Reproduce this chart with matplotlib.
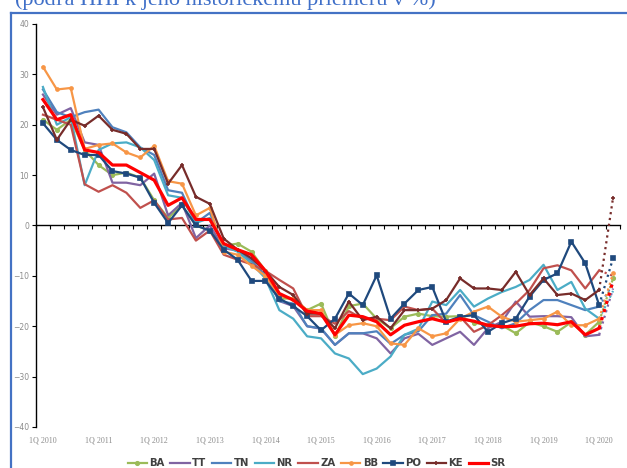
import matplotlib.pyplot as plt
import numpy as np
from matplotlib.lines import Line2D

# quarters 1Q 2010 .. 1Q 2020 (solid), plus 2Q 2020 (dotted end)
year_labels = ["1Q 2010", "1Q 2011", "1Q 2012", "1Q 2013", "1Q 2014", "1Q 2015",
               "1Q 2016", "1Q 2017", "1Q 2018", "1Q 2019", "1Q 2020"]

BA = [21, 19, 21, 15, 12, 10, 10.5, 9.5, 5, 1.5, 4, 0, -1, -4, -3.6, -5.2, -9, -14.5, -14.5, -16.8,
      -15.5, -22, -16, -15.5, -18.5, -20.4, -18.1, -17.5, -18, -18.1, -18, -19.3, -19.8, -19.8, -21.4,
      -19.2, -20, -21.1, -19.2, -21.7, -19.1]
TT = [26, 22, 23.3, 16.5, 16, 8.5, 8.5, 8, 10.3, 2, 4.5, -2.5, 0, -4.5, -5, -7, -10, -15, -16, -20,
      -20.5, -23.7, -21.4, -21.4, -22.4, -25.4, -22.4, -21.5, -23.7, -22.4, -21.1, -23.7, -20.4, -19.1,
      -15.1, -18.1, -18, -18, -18.2, -22, -21.7]
TN = [27, 22.5, 21.5, 22.5, 23, 19.5, 18.5, 15.5, 14, 7, 6.5, 0.5, 2.5, -4, -5, -7, -10, -15, -15.5,
      -20, -20.4, -23.7, -21.4, -21.4, -21, -23.5, -21.7, -21, -17.8, -17.5, -13.8, -17.8, -19.1, -20.4,
      -19.4, -16.8, -14.8, -14.8, -15.8, -16.8, -16.1]
NR = [27.5, 20, 21.5, 8, 15, 16.3, 16.5, 15.5, 13, 6, 5.5, 0.5, 1.5, -4, -5.2, -7.5, -10.5, -16.8,
      -18.5, -22, -22.4, -25.4, -26.4, -29.5, -28.4, -26, -21.7, -20.5, -15.1, -15.8, -12.8, -16.1,
      -14.5, -13.2, -12.2, -10.8, -7.8, -12.8, -11.2, -16.5, -18.5]
ZA = [22, 21, 20, 8.2, 6.7, 8, 6.5, 3.5, 5, 1.2, 1.5, -3, -1, -5.8, -6.8, -7.7, -9, -10.8, -12.5,
      -18, -18, -19.5, -17, -18.5, -18.5, -18.8, -16.1, -16.8, -16.5, -19.4, -18.1, -21.1, -19.8,
      -17.8, -15.5, -12.8, -8.5, -7.9, -8.9, -12.5, -8.9]
BB = [31.5, 27, 27.3, 15.2, 16, 16.3, 14.5, 13.5, 15.8, 8.8, 8.3, 2, 3.5, -5.2, -5.8, -8, -10, -14,
      -14.5, -16.8, -16.8, -21.7, -19.8, -19.4, -20, -23.4, -23.7, -20.4, -22, -21.4, -18.5, -17.1,
      -16.1, -18.1, -19.1, -18.8, -18.5, -17.1, -19.8, -19.8, -18.5]
PO = [20.3, 17, 15, 14, 14, 10.8, 10.3, 9.5, 4.5, 0.5, 4, 0, -1, -4.8, -6.8, -11, -11, -14.5, -16,
      -18, -20.8, -18.5, -13.5, -15.8, -9.9, -18.5, -15.5, -12.8, -12.2, -19.1, -18.1, -17.8, -21.1,
      -19.4, -18.5, -14.1, -10.8, -9.5, -3.2, -7.5, -15.8]
KE = [23.5, 17, 21, 19.8, 21.8, 19, 18.2, 15.2, 15.2, 8.3, 12, 5.7, 4.3, -2.6, -4.8, -6.5, -9, -12.2,
      -13.8, -17.5, -17.5, -20.4, -15.1, -18.8, -18.1, -20.4, -16.8, -16.8, -16.5, -14.8, -10.5, -12.5,
      -12.5, -12.8, -9.2, -13.8, -10.5, -13.8, -13.5, -14.8, -12.8]
SR = [25, 21, 22, 15, 14.5, 12, 12, 10.5, 9, 4, 5.5, 1.2, 1.2, -3.6, -4.8, -5.8, -9, -13.5, -14.8,
      -17, -17.5, -21.7, -17.8, -18.1, -19.1, -21.7, -19.8, -19.1, -18.5, -19.2, -18.5, -19, -19.8,
      -20.1, -20, -19.5, -19.4, -19.7, -19.1, -21.7, -20.4]

# 2Q 2020 values (dotted segment)
last_q = {"BA": -10.5, "TT": -12.5, "TN": -11.5, "NR": -13, "ZA": -10,
          "BB": -9.5, "PO": -6.5, "KE": 5.5, "SR": -11}

series = [
    ("BA", BA, "#9BBB59", "o", 2.5, 1.6),
    ("TT", TT, "#8064A2", None, 0, 1.6),
    ("TN", TN, "#4F81BD", None, 0, 1.6),
    ("NR", NR, "#4BACC6", None, 0, 1.6),
    ("ZA", ZA, "#C0504D", None, 0, 1.6),
    ("BB", BB, "#F79646", "o", 2.2, 1.6),
    ("PO", PO, "#1F497D", "s", 2.8, 1.6),
    ("KE", KE, "#772C2A", "+", 3.5, 1.6),
    ("SR", SR, "#FF0000", None, 0, 2.3),
]

fig = plt.figure(figsize=(6.27, 4.68), dpi=100)
ax = fig.add_axes([36 / 627, 1 - 427 / 468, 584 / 627, 403 / 468])

n = len(SR)
x = np.arange(n)
for name, vals, col, mk, ms, lw in series:
    ax.plot(x, vals, color=col, lw=lw, marker=mk, ms=ms, mew=1.2, label=name, zorder=3)
    ax.plot([n - 1, n], [vals[-1], last_q[name]], color=col, lw=lw, ls=":",
            marker=mk, ms=ms, markevery=[1], mew=1.2, zorder=3)

ax.set_xlim(-0.5, n + 0.5)
ax.set_ylim(-40, 40)
ax.set_yticks(np.arange(-40, 41, 10))
ax.tick_params(axis="y", direction="out", length=3, width=0.8, labelsize=5.5,
               labelcolor="#8c8c8c", pad=2)

ax.spines["top"].set_visible(False)
ax.spines["right"].set_visible(False)
ax.spines["bottom"].set_position(("data", 0))
ax.spines["bottom"].set_linewidth(1.0)
ax.spines["left"].set_linewidth(1.0)
ax.set_xticks(np.arange(-0.5, n + 1, 1))
ax.set_xticklabels([])
ax.tick_params(axis="x", direction="out", length=3, width=0.8)

sec = ax.secondary_xaxis("bottom")
sec.set_xticks(np.arange(0, n, 4))
sec.set_xticklabels(year_labels, fontsize=5.8, color="#8c8c8c", family="Liberation Serif")
sec.tick_params(length=0, pad=7)
sec.spines["bottom"].set_visible(False)

handles, labels = ax.get_legend_handles_labels()
leg = fig.legend(handles, labels, loc="lower center", bbox_to_anchor=(0.505, -0.02), ncol=9,
                 frameon=False, handlelength=1.9, columnspacing=0.55, handletextpad=0.25,
                 prop={"family": ["Liberation Sans Narrow", "DejaVu Sans"], "weight": "bold",
                       "size": 7.3})
for t in leg.get_texts():
    t.set_color("#404040")

# clipped heading and blue frame
fig.text(15 / 627, 1 - 5 / 468, "(podľa HHI k jeho historickému priemeru v %)", fontsize=16,
         family="Liberation Serif", color="#3F6FC8", va="baseline", ha="left")
frame = "#4472C4"
fig.add_artist(Line2D([11 / 627, 11 / 627], [0, 1 - 13 / 468], color=frame, lw=1.6))
fig.add_artist(Line2D([11 / 627, 1], [1 - 13 / 468, 1 - 13 / 468], color=frame, lw=1.6))

fig.savefig("out.png", dpi=100)
